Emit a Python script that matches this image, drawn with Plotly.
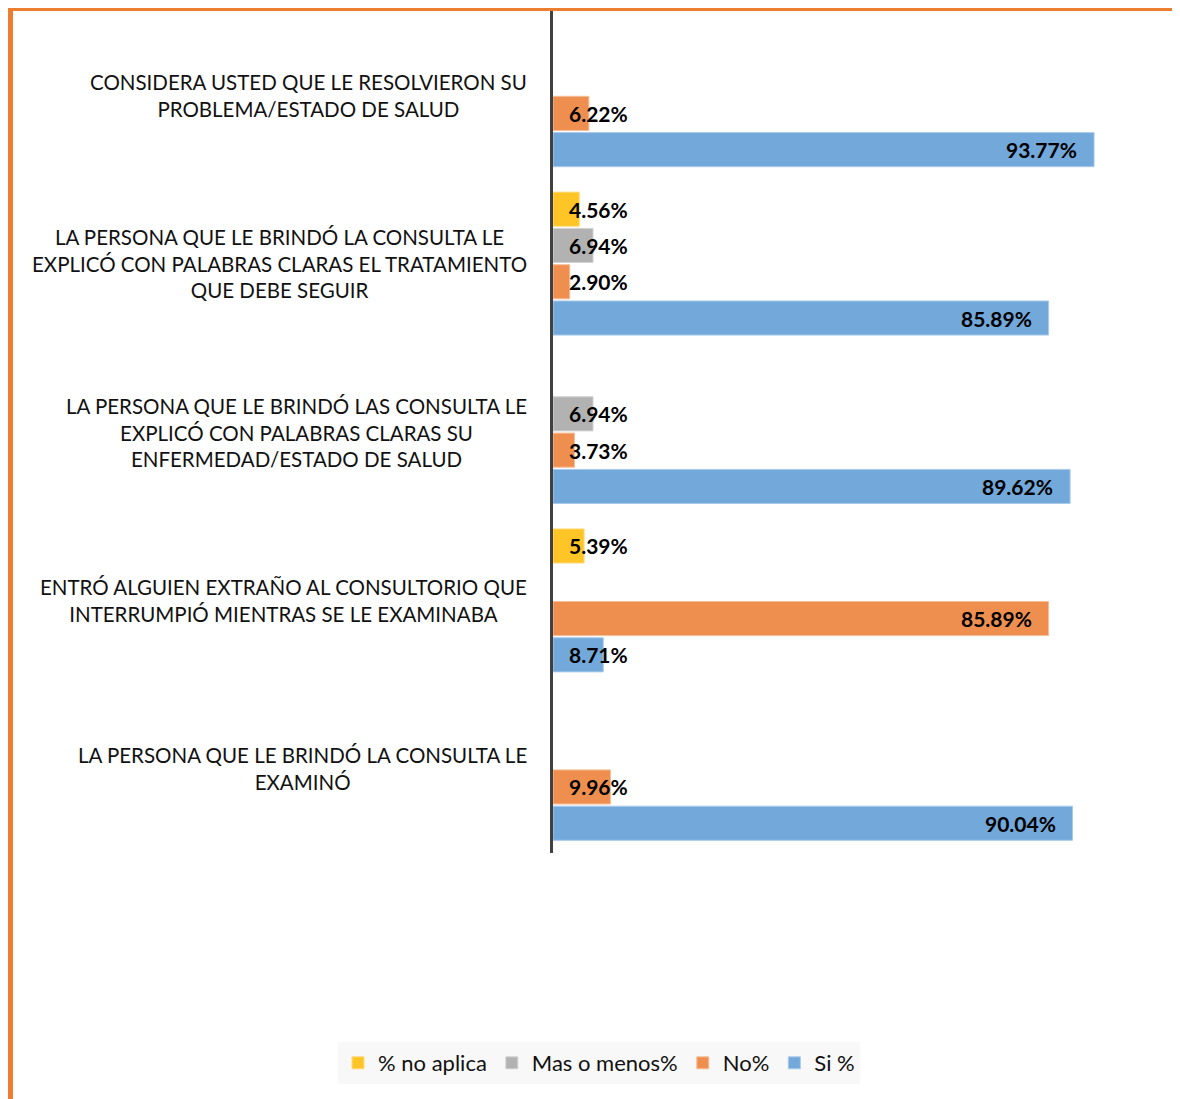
import plotly.graph_objects as go

# categories, top to bottom as in the chart
categories = [
    "CONSIDERA USTED QUE LE RESOLVIERON SU<br>PROBLEMA/ESTADO DE SALUD",
    "LA PERSONA QUE LE BRINDÓ LA CONSULTA LE<br>EXPLICÓ CON PALABRAS CLARAS EL TRATAMIENTO<br>QUE DEBE SEGUIR",
    "LA PERSONA QUE LE BRINDÓ LAS CONSULTA LE<br>EXPLICÓ CON PALABRAS CLARAS SU<br>ENFERMEDAD/ESTADO DE SALUD",
    "ENTRÓ ALGUIEN EXTRAÑO AL CONSULTORIO QUE<br>INTERRUMPIÓ MIENTRAS SE LE EXAMINABA",
    "LA PERSONA QUE LE BRINDÓ LA CONSULTA LE<br>EXAMINÓ",
]

no_aplica = [None, 4.56, None, 5.39, None]
mas_menos = [None, 6.94, 6.94, None, None]
no_vals = [6.22, 2.90, 3.73, 85.89, 9.96]
si_vals = [93.77, 85.89, 89.62, 8.71, 90.04]

# bottom-to-top order inside each group
series = [
    ("Si %", si_vals, "#72A8DA", "#A9CBEA"),
    ("No%", no_vals, "#EF8F4F", "#F6BE98"),
    ("Mas o menos%", mas_menos, "#B2B2B2", "#D2D2D2"),
    ("% no aplica", no_aplica, "#FFC425", "#FFDB7E"),
]

# page has an 8px body margin, so the figure is offset
OFF = 8
W, H = 1180 - OFF, 1099 - OFF
ML, MR, MT, MB = 553 - OFF, 50, 11 - OFF, 246
BARGAP = 0.138
FONT = "Lato, 'Open Sans', sans-serif"

y_order = categories[::-1]
pos = {c: i for i, c in enumerate(y_order)}

fig = go.Figure()
for name, vals, col, edge in series:
    fig.add_trace(go.Bar(
        name=name, y=categories, x=vals, orientation="h",
        marker=dict(color=col, line=dict(color=edge, width=1)),
        hoverinfo="x+name",
    ))

# value labels
slot = (1 - BARGAP) / len(series)
ann = []
for k, (name, vals, col, edge) in enumerate(series):
    for c, v in zip(categories, vals):
        if v is None:
            continue
        y = pos[c] + (k - (len(series) - 1) / 2) * slot
        big = v > 20
        ann.append(dict(
            x=v if big else 0, y=y, xref="x", yref="y",
            text=f"<b>{v:.2f}%</b>", showarrow=False,
            xanchor="right" if big else "left",
            xshift=-15 if big else 14,
            font=dict(family=FONT, size=21, color="#000000"),
        ))

# category labels (centered lines, right aligned block)
for c in categories:
    ann.append(dict(
        x=0, y=pos[c], xref="paper", yref="y", text=c, showarrow=False,
        xanchor="right", yanchor="middle", align="center", xshift=-24,
        font=dict(family=FONT, size=20.5, color="#111111"),
    ))

pw = W - ML - MR
ph = H - MT - MB
bx = (10 - OFF - ML) / pw
by = 1 + (MT + OFF - 8) / ph
fig.add_shape(type="path", xref="paper", yref="paper",
              path=f"M {bx} {-MB / ph - 0.05} L {bx} {by} L {1 + MR / pw + 0.05} {by}",
              line=dict(color="#ED7D31", width=6))

fig.update_layout(
    width=W, height=H,
    margin=dict(l=ML, r=MR, t=MT, b=MB),
    barmode="group", bargap=BARGAP, bargroupgap=0.06,
    plot_bgcolor="white", paper_bgcolor="white",
    font=dict(family=FONT, size=20, color="#111111"),
    xaxis=dict(range=[0, 100], showgrid=False, zeroline=False,
               showticklabels=False, showline=False),
    yaxis=dict(categoryorder="array", categoryarray=y_order,
               showticklabels=False, showgrid=False, zeroline=False,
               showline=True, linecolor="#404040", linewidth=3),
    legend=dict(orientation="h", traceorder="reversed",
                x=(599 - OFF - ML) / pw, xanchor="center",
                y=(MT + ph - (1063 - OFF)) / ph, yanchor="middle",
                bgcolor="#F8F8F8", font=dict(family=FONT, size=22, color="#111111"),
                itemwidth=30),
    annotations=ann,
    showlegend=True,
)

fig.write_html("out.html")
